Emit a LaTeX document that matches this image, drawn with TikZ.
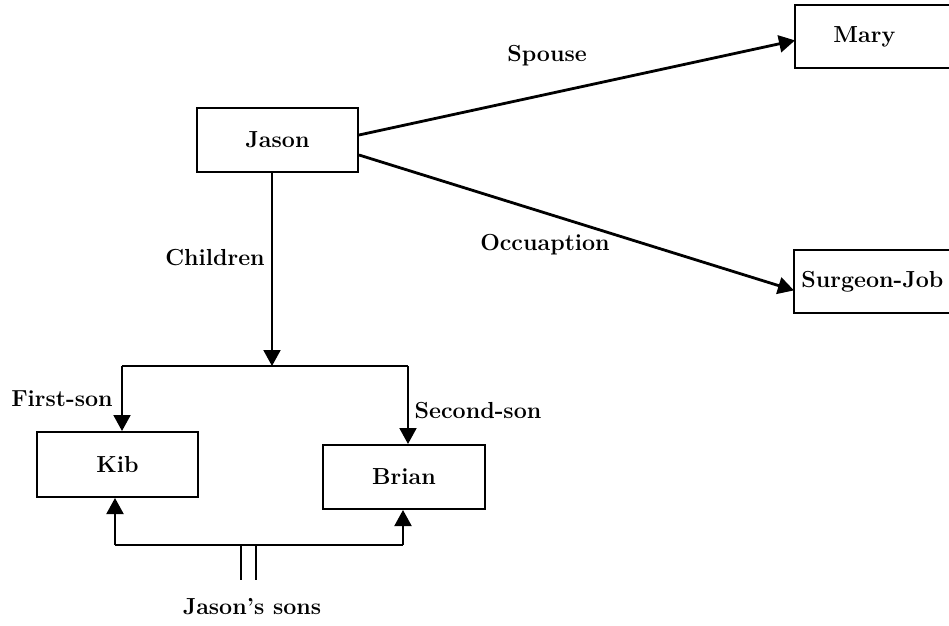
\documentclass[tikz,border=0pt]{standalone}
\usetikzlibrary{arrows.meta}
\begin{document}
\begin{tikzpicture}[x=0.5pt,y=-0.5pt,
  txt/.style={font=\fontsize{11.6}{14}\selectfont\bfseries},
  box/.style={txt, draw, line width=1pt, rectangle, inner sep=0pt},
  openbox/.style={txt, draw=none, rectangle, inner sep=0pt},
  lbl/.style={txt, inner sep=0pt},
  arr/.style={line width=1pt, -{Triangle[length=8pt,width=8.5pt]}},
  thickarr/.style={line width=1.4pt, -{Triangle[length=8pt,width=8.5pt]}},
  ln/.style={line width=1pt}]
\useasboundingbox (0,0) rectangle (949,626);
\fill[white] (0,0) rectangle (949,626);
% nodes
\node[box, minimum width=80.5pt, minimum height=32pt] (jason) at (277.5,140) {Jason};
\node[openbox, anchor=north west, minimum height=31pt, text width=85pt, align=left] (mary) at (795,5) {\hspace*{19pt}Mary};
\node[openbox, anchor=north west, minimum height=31pt, text width=85pt, align=left] (surgeon) at (794,250) {\hspace*{3.5pt}Surgeon-Job};
\node[box, minimum width=80.5pt, minimum height=32.5pt] (kib) at (117.5,464.5) {Kib};
\node[box, minimum width=81pt, minimum height=32pt] (brian) at (404,477) {Brian};
% the two right-hand boxes run out at the edge of the picture
\coordinate (re) at (949,0);
\draw[line width=1pt] (re |- mary.north) -- (mary.north west) -- (mary.south west) -- (re |- mary.south);
\draw[line width=1pt] (re |- surgeon.north) -- (surgeon.north west) -- (surgeon.south west) -- (re |- surgeon.south);
% coordinates
\coordinate (bar) at (272,366);
\coordinate (kt) at (122,366);
\coordinate (bt) at (408,366);
\coordinate (kb) at (115,545);
\coordinate (bb) at (403,545);
\coordinate (d1) at (241,545);
\coordinate (d2) at (256,545);
\coordinate (d1e) at (241,580);
\coordinate (d2e) at (256,580);
% connectors
\draw[thickarr] ([yshift=2.5pt]jason.east) -- ([yshift=-2pt]mary.west);
\draw[thickarr] ([yshift=-7.5pt]jason.east) -- ([yshift=-4.5pt]surgeon.west);
\draw[arr] (jason.south -| bar) -- (bar);
\draw[ln] (kt) -- (bt);
\draw[arr] (kt) -- (kt |- kib.north);
\draw[arr] (bt) -- (bt |- brian.north);
\draw[ln] (kb) -- (bb);
\draw[arr] (kb) -- (kb |- kib.south);
\draw[arr] (bb) -- (bb |- brian.south);
\draw[ln] (d1) -- (d1e);
\draw[ln] (d2) -- (d2e);
% labels
\node[lbl] (spouse) at (547,56) {Spouse};
\node[lbl] (occ) at (545,245) {Occuaption};
\node[lbl] (children) at (215,258) {Children};
\node[lbl] (firstson) at (62,399) {First-son};
\node[lbl] (secondson) at (478,411) {Second-son};
\node[lbl] (sons) at (252,607) {Jason's sons};
\end{tikzpicture}
\end{document}
